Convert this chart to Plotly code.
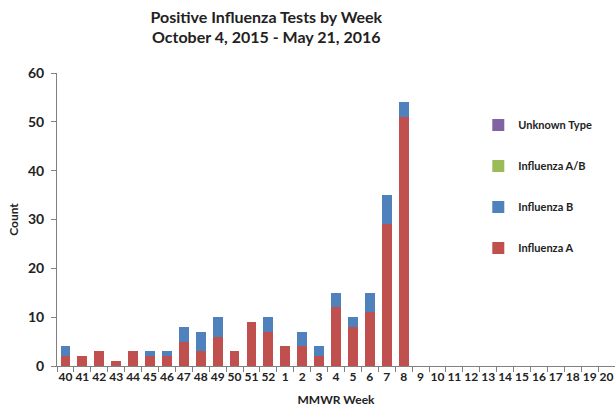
import plotly.graph_objects as go

weeks = ["40", "41", "42", "43", "44", "45", "46", "47", "48", "49", "50", "51", "52",
         "1", "2", "3", "4", "5", "6", "7", "8", "9", "10", "11", "12", "13", "14",
         "15", "16", "17", "18", "19", "20"]
flu_a = [2, 2, 3, 1, 3, 2, 2, 5, 3, 6, 3, 9, 7, 4, 4, 2, 12, 8, 11, 29, 51,
         0, 0, 0, 0, 0, 0, 0, 0, 0, 0, 0, 0]
flu_b = [2, 0, 0, 0, 0, 1, 1, 3, 4, 4, 0, 0, 3, 0, 3, 2, 3, 2, 4, 6, 3,
         0, 0, 0, 0, 0, 0, 0, 0, 0, 0, 0, 0]
flu_ab = [0] * 33
unknown = [0] * 33

FONT = "Lato"
series = [
    ("Influenza A", flu_a, "#C0504D", 4),
    ("Influenza B", flu_b, "#4F81BD", 3),
    ("Influenza A/B", flu_ab, "#9BBB59", 2),
    ("Unknown Type", unknown, "#8064A2", 1),
]

fig = go.Figure()
for name, vals, col, rank in series:
    fig.add_trace(go.Bar(
        x=weeks, y=[v if v else None for v in vals], name=name,
        legendgroup=name, legendrank=rank,
        marker=dict(color=col, line=dict(width=0)),
    ))

fig.update_layout(
    width=615, height=411,
    barmode="stack", bargap=0.42,
    plot_bgcolor="white", paper_bgcolor="white",
    margin=dict(l=57, r=0, t=73, b=45),
    font=dict(family=FONT, color="#222222"),
    title=dict(
        text="<b>Positive Influenza Tests by Week</b><br><b>October 4, 2015 - May 21, 2016</b>",
        x=0.433, xanchor="center", y=0.945, yanchor="top",
        font=dict(family=FONT, size=16, color="#222222"),
    ),
    xaxis=dict(
        type="category", categoryorder="array", categoryarray=weeks,
        tickson="boundaries", ticks="outside", ticklen=5, tickcolor="#808080",
        showline=True, linecolor="#808080", linewidth=1, tickangle=0,
        tickfont=dict(family=FONT, size=12, color="#222222", weight="bold"),
        title=dict(text="<b>MMWR Week</b>", font=dict(family=FONT, size=12), standoff=12),
        showgrid=False, fixedrange=True, automargin=False,
    ),
    yaxis=dict(
        range=[0, 60], dtick=10, ticks="outside", ticklen=5, tickcolor="#808080",
        showline=True, linecolor="#808080", linewidth=1, ticklabelstandoff=4,
        tickfont=dict(family=FONT, size=14, color="#222222", weight="bold"),
        title=dict(text="<b>Count</b>", font=dict(family=FONT, size=12), standoff=6),
        showgrid=False, zeroline=False, automargin=False,
    ),
    legend=dict(
        x=0.755, y=0.872, xanchor="left", yanchor="top",
        traceorder="grouped", tracegroupgap=22,
        font=dict(family=FONT, size=11, weight="bold", color="#222222"),
        itemwidth=30, bgcolor="rgba(0,0,0,0)",
    ),
)

fig.write_html("out.html", config={"displayModeBar": False},
               post_script="document.body.style.margin='0';document.body.style.padding='0';")
